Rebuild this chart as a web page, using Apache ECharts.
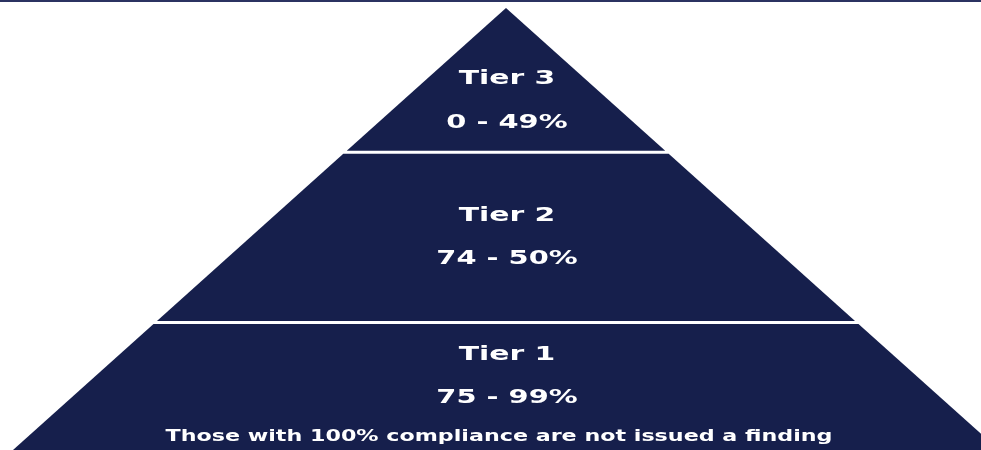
<!DOCTYPE html>
<html>
<head>
<meta charset="utf-8">
<script src="https://cdn.jsdelivr.net/npm/echarts@6/dist/echarts.min.js"></script>
<style>html,body{margin:0;padding:0;background:#fff;}#c{width:981px;height:450px;}</style>
</head>
<body>
<div id="c"></div>
<script>
// Tiers listed from the base (Tier 1) to the apex (Tier 3)
const tierNames = ['Tier 1', 'Tier 2', 'Tier 3'];
const tierRanges = ['75 - 99%', '74 - 50%', '0 - 49%'];
// pyramid level (0 = base, 100 = apex) where each tier starts and ends
const tierBottoms = [0, 29.2, 67.7];
const tierTops = [28.5, 67.0, 100];
const footnote = 'Those with 100% compliance are not issued a finding';

const NAVY = '#161f4c';
const nameShift = [-32, -21.5, 0];

const chart = echarts.init(document.getElementById('c'), null, {renderer: 'canvas'});
const data = tierBottoms.map((b, i) => [b, tierTops[i]]);

function renderItem(params, api) {
  const i = params.dataIndex;
  const b = api.value(0), t = api.value(1);
  const hw = l => 1 - l / 100;
  const bl = api.coord([-hw(b), b]);
  const br = api.coord([hw(b), b]);
  const tr = api.coord([hw(t), t]);
  const tl = api.coord([-hw(t), t]);
  const cx = api.coord([0, 0])[0];
  const mid = (bl[1] + tl[1]) / 2;
  const nameY = mid + nameShift[i];
  const txt = (s, x, y, size, sx) => ({
    type: 'text', x: x, y: y, scaleX: sx, z2: 10,
    style: {
      text: s, x: 0, y: 0, fill: '#ffffff',
      fontFamily: 'DejaVu Sans', fontWeight: 'bold', fontSize: size,
      align: 'center', verticalAlign: 'middle'
    }
  });
  const children = [
    {type: 'polygon', shape: {points: [bl, br, tr, tl]}, style: {fill: NAVY}},
    txt(tierNames[i], cx + 1, nameY, 19, 1.57),
    txt(tierRanges[i], cx + 1, nameY + 43.5, 19, 1.52)
  ];
  if (i === 0) children.push(txt(footnote, cx - 7, nameY + 82, 15, 1.48));
  return {type: 'group', children: children};
}

chart.setOption({
  animation: false,
  backgroundColor: '#ffffff',
  grid: {left: 13, right: 0, top: 8, bottom: 0},
  xAxis: {type: 'value', min: -1, max: 0.9635, show: false},
  yAxis: {type: 'value', min: 0, max: 100, show: false},
  graphic: [{type: 'rect', left: 0, top: 0, shape: {width: 981, height: 2}, style: {fill: '#2b3361'}}],
  series: [{
    type: 'custom',
    renderItem: renderItem,
    data: data,
    clip: false
  }]
});
</script>
</body>
</html>
